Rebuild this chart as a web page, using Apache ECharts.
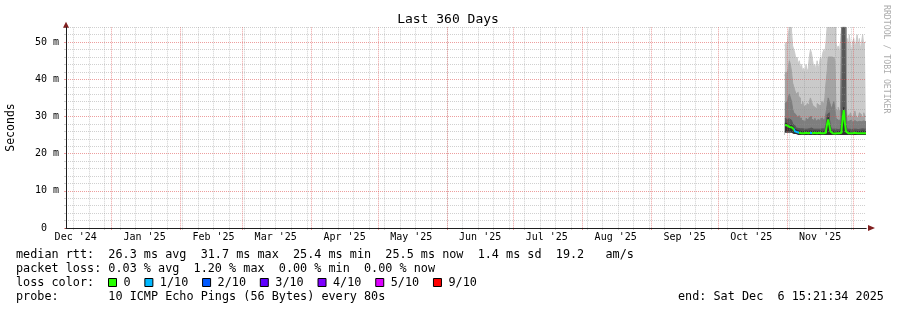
<!DOCTYPE html>
<html><head><meta charset="utf-8">
<script src="https://cdn.jsdelivr.net/npm/echarts@6/dist/echarts.min.js"></script>
<style>html,body{margin:0;padding:0;background:#fff}#c{width:897px;height:310px}</style>
</head><body><div id="c"></div>
<script>
// ---- time frame ----
const DAY = 86400000;
const END = Date.UTC(2025, 11, 6, 15, 21, 34);
const START = END - 360 * DAY;
const STEP = DAY / 2;

// ---- tick labels ----
const monthLabels = ["Dec '24","Jan '25","Feb '25","Mar '25","Apr '25","May '25","Jun '25","Jul '25","Aug '25","Sep '25","Oct '25","Nov '25"];
const yMajor = [0, 10, 20, 30, 40, 50];
const yLabels = ['0  ', '10 m', '20 m', '30 m', '40 m', '50 m'];
const lossLabels = ['0', '1/10', '2/10', '3/10', '4/10', '5/10', '9/10'];
const lossColors = ['#26ff00', '#00b8ff', '#0059ff', '#5e00ff', '#7e00ff', '#dd00ff', '#ff0000'];
const lossLevels = [0, 1, 2, 3, 4, 5, 9];

// ---- data (ms), one value per 12 h, last 37 days ----
const median = [27.7,27.6,27.3,27.2,27.3,27.1,26.9,26.6,26.3,26.0,25.8,25.7,25.6,25.6,25.5,25.6,25.5,25.5,25.6,25.5,
 25.5,25.6,25.6,25.7,25.5,25.5,25.6,25.5,25.5,25.5,25.6,25.5,25.5,25.6,25.5,25.5,25.6,26.2,28.0,29.2,
 27.6,26.0,25.5,25.5,25.4,25.5,25.5,25.4,25.5,25.5,25.6,26.5,29.5,31.7,28.3,26.0,25.5,25.5,25.5,25.4,
 25.5,25.5,25.6,25.5,25.5,25.4,25.5,25.5,25.5,25.6,25.5,25.5,25.5,25.5];
const lossCount = [0,0,0,0,0,0,0,0,1,1,1,1,1,0,0,0,0,0,0,0,
 0,0,0,1,0,0,0,0,0,0,0,0,0,0,0,0,0,0,0,0,
 0,0,0,0,0,0,0,0,0,0,0,0,0,0,0,0,0,0,0,0,
 0,0,0,0,0,0,0,0,0,0,0,0,0,0];
const pingMin = [25.6,25.6,25.6,25.6,25.6,25.6,25.6,25.3,25.3,25.3,25.0,25.0,25.0,25.0,25.0,25.0,25.0,25.0,25.0,25.0,
 25.0,25.0,25.0,25.0,25.0,25.0,25.0,25.0,25.0,25.0,25.0,25.0,25.0,25.0,25.0,25.0,25.0,25.0,25.0,25.0,
 25.0,25.0,25.0,25.0,25.0,25.0,25.0,25.0,25.0,25.0,25.0,25.0,25.0,25.0,25.0,25.0,25.0,25.0,25.0,25.0,
 25.0,25.0,25.0,25.0,25.0,25.0,25.0,25.0,25.0,25.0,25.0,25.0,25.0,25.0];
const ping6 = [28.2,28.1,27.8,27.7,27.8,27.6,27.4,27.1,26.8,26.5,26.3,26.2,26.1,26.1,26.0,26.1,26.0,26.0,26.1,26.0,
 26.0,26.1,26.1,26.2,26.0,26.0,26.1,26.0,26.0,26.0,26.1,26.0,26.0,26.1,26.0,26.0,26.1,26.8,28.6,29.8,
 28.2,26.6,26.0,26.0,25.9,26.0,26.0,25.9,26.0,26.0,26.1,27.2,30.4,32.5,29.0,26.6,26.0,26.0,26.0,25.9,
 26.0,26.0,26.1,26.0,26.0,25.9,26.0,26.0,26.0,26.1,26.0,26.0,26.0,26.0];
const ping7 = [29.5,29.2,29.0,29.4,29.8,29.0,28.6,28.0,27.6,27.2,26.9,26.8,26.7,26.7,26.6,26.7,26.6,26.6,26.7,26.6,
 26.6,26.7,26.8,26.9,26.6,26.6,26.7,26.6,26.6,26.6,26.7,26.6,26.6,26.7,26.6,26.6,26.7,27.8,30.5,31.0,
 29.5,27.4,26.6,26.6,26.5,26.6,26.6,26.5,26.6,26.6,26.8,30.0,54,54,54,27.8,26.6,26.6,26.6,26.5,
 26.6,26.6,26.7,26.6,26.6,26.5,26.6,26.6,26.6,26.7,26.6,26.6,26.6,26.6];
const ping8 = [33.5,34,33,35,36,35,34,32,31,30.5,30,29.8,30.2,29.5,29.6,29,28.8,29.3,28.7,29.5,
 29,29.2,29.8,30,29.4,28.9,29,29.5,28.7,29.2,29,28.8,29.4,29.6,29,29.3,29.8,31,33,35,
 34,33,32,33,34,32,29.5,29,29.5,29,30,54,54,54,54,31,28.5,28.8,28.3,29,
 28.6,28.4,28.9,29.2,28.5,28.3,28.7,29,28.6,28.4,28.8,29,28.6,28.6];
const ping9 = [41,42,41,43,45,44,42,39,38,37,36,36.5,35.5,35,33.5,33,34,32.5,33,32,
 33.5,33,34,35,34,33,32.5,33,32,33.5,33,32.5,33,34,33.5,34,35,39,42,46,
 46,46,46,45,46,45,32,31.5,32.5,31.5,32,54,54,54,54,33,30,30.5,29.5,31,
 30,29.5,30.5,31.5,30,29.5,30,31,30.5,29.5,30,31,30,30];
const pingMax = [49,50,49,52,54,54,53,49,48,47,45,46,44,45,43,44,42,43,41,44,
 42,43,46,48,47,45,43,44,42,45,43,44,46,45,47,48,47,50,54,54,
 54,54,54,54,54,54,50,48,49,47,50,54,54,54,54,50,51,48,52,49,
 47,50,51,48,50,52,49,51,48,50,52,49,50,50];

const N = median.length;
const times = median.map((_, i) => END - (N - 1 - i) * STEP);

// ---- grid positions ----
const weekTicks = [];
for (let t = Date.UTC(2024, 11, 15); t < END; t += 7 * DAY) weekTicks.push(t);
const monthTicks = [];
for (let m = 0; m < 12; m++) monthTicks.push(Date.UTC(2025, m, 1));
const labelTicks = monthLabels.map((_, k) => Date.UTC(2024, 11 + k, 16));
const yMinor = [];
for (let v = 2; v <= 54; v += 2) if (v % 10 !== 0) yMinor.push(v);

const MONO = "'DejaVu Sans Mono', monospace";
const GRID = 'rgba(143,143,143,0.42)';
const MGRID = 'rgba(222,79,79,0.55)';
const ARROW = '#801f1f';
const AXIS = '#1f1f1f';
const SMOKE_BASE = 25; // fill floor for the smoke areas (lowest ping level)

// ---- series: smoke bands (outer = lightest), drawn light to dark ----
const bands = [
  {top: pingMax, color: '#cacaca'},
  {top: ping9, color: '#a4a4a4'},
  {top: ping8, color: '#7e7e7e'},
  {top: ping7, color: '#585858'},
  {top: ping6, color: '#323232'}
];
const series = [];
bands.forEach((b, k) => {
  series.push({type: 'line', step: 'end', symbol: 'none', silent: true, z: 2,
    xAxisIndex: 2, yAxisIndex: 2,
    lineStyle: {width: 1, color: b.color},
    areaStyle: {color: b.color, opacity: 1, origin: SMOKE_BASE},
    data: times.map((t, i) => [t, b.top[i]])});
});
// white mask from the floor up to the smallest ping
series.push({type: 'line', step: 'end', symbol: 'none', silent: true, z: 2,
  xAxisIndex: 2, yAxisIndex: 2,
  lineStyle: {width: 0, color: '#ffffff', opacity: 0},
  areaStyle: {color: '#ffffff', opacity: 1, origin: SMOKE_BASE},
  data: times.map((t, i) => [t, pingMin[i]])});
const medianIndex = series.length;
series.push({type: 'line', step: 'end', symbol: 'none', silent: true, z: 5,
  xAxisIndex: 2, yAxisIndex: 2, lineStyle: {width: 2},
  data: times.map((t, i) => [t, median[i]])});

// loss colour pieces along time
const pieces = [];
let s = 0;
for (let i = 1; i <= N; i++) {
  if (i === N || lossCount[i] !== lossCount[s]) {
    pieces.push({gte: times[s], lt: i < N ? times[i] : END + STEP,
      color: lossColors[lossLevels.indexOf(lossCount[s])]});
    s = i;
  }
}

// ---- legend graphics ----
const CW = 7.12;
const FONT = '11.8px ' + MONO;
const graphic = [
  {type: 'text', x: 448, y: 19.8, style: {text: 'Last 360 Days', font: '13px ' + MONO, fill: '#000', align: 'center', verticalAlign: 'middle'}},
  {type: 'text', x: 11, y: 127.5, rotation: Math.PI / 2, style: {text: 'Seconds', font: '11.5px ' + MONO, fill: '#000', align: 'center', verticalAlign: 'middle'}},
  {type: 'text', x: 886, y: 5, rotation: -Math.PI / 2, style: {text: 'RRDTOOL / TOBI OETIKER', font: '8.2px ' + MONO, fill: '#acacac', align: 'left', verticalAlign: 'middle'}},
  {type: 'text', x: 16, y: 255, style: {text: 'median rtt:  26.3 ms avg  31.7 ms max  25.4 ms min  25.5 ms now  1.4 ms sd  19.2   am/s', font: FONT, fill: '#000', align: 'left', verticalAlign: 'middle'}},
  {type: 'text', x: 16, y: 269, style: {text: 'packet loss: 0.03 % avg  1.20 % max  0.00 % min  0.00 % now', font: FONT, fill: '#000', align: 'left', verticalAlign: 'middle'}},
  {type: 'text', x: 16, y: 283, style: {text: 'loss color:', font: FONT, fill: '#000', align: 'left', verticalAlign: 'middle'}},
  {type: 'text', x: 16, y: 297, style: {text: 'probe:       10 ICMP Echo Pings (56 Bytes) every 80s', font: FONT, fill: '#000', align: 'left', verticalAlign: 'middle'}},
  {type: 'text', x: 678, y: 297, style: {text: 'end: Sat Dec  6 15:21:34 2025', font: FONT, fill: '#000', align: 'left', verticalAlign: 'middle'}}
];
let lx = 108.5;
lossLabels.forEach((lab, k) => {
  graphic.push({type: 'rect', shape: {x: lx, y: 278.5, width: 8, height: 8}, style: {fill: lossColors[k], stroke: '#000', lineWidth: 1}});
  graphic.push({type: 'text', x: lx + 15, y: 283, style: {text: lab, font: FONT, fill: '#000', align: 'left', verticalAlign: 'middle'}});
  lx += 15 + lab.length * CW + 2 * CW;
});

const xBase = {type: 'value', min: START, max: END, position: 'bottom', offset: 0};
const yBase = {type: 'value', min: 0, max: 54, position: 'left', offset: 0};

const option = {
  backgroundColor: '#ffffff',
  animation: false,
  grid: {left: 66, right: 31, top: 27.3, bottom: 82, outerBoundsMode: 'none', containLabel: false},
  xAxis: [
    Object.assign({}, xBase, {z: 3, axisLine: {show: false}, axisLabel: {show: false},
      axisTick: {show: true, customValues: weekTicks, length: 2, lineStyle: {color: GRID}},
      splitLine: {show: true, lineStyle: {color: GRID, width: 1, type: [1, 1]}}}),
    Object.assign({}, xBase, {z: 3, axisLabel: {show: false},
      axisLine: {show: true, symbol: ['none', 'triangle'], symbolSize: [6, 7], symbolOffset: [0, 5.5], lineStyle: {color: ARROW, width: 1}},
      axisTick: {show: true, customValues: monthTicks, length: 2, lineStyle: {color: MGRID}},
      splitLine: {show: true, lineStyle: {color: MGRID, width: 1, type: [1, 1]}}}),
    Object.assign({}, xBase, {z: 4, splitLine: {show: false}, axisTick: {show: false},
      axisLine: {show: true, lineStyle: {color: AXIS, width: 1}},
      axisLabel: {show: true, customValues: labelTicks, margin: 4, fontFamily: MONO, fontSize: 10, color: '#000',
        formatter: v => { const k = labelTicks.indexOf(v); return k >= 0 ? monthLabels[k] : ''; }}})
  ],
  yAxis: [
    Object.assign({}, yBase, {z: 3, axisLine: {show: false}, axisLabel: {show: false},
      axisTick: {show: true, customValues: yMinor, length: 2, lineStyle: {color: GRID}},
      splitLine: {show: true, lineStyle: {color: GRID, width: 1, type: [1, 1]}}}),
    Object.assign({}, yBase, {z: 3, axisLabel: {show: false},
      axisLine: {show: true, symbol: ['none', 'triangle'], symbolSize: [6, 6], symbolOffset: [0, 2.5], lineStyle: {color: ARROW, width: 1}},
      axisTick: {show: true, customValues: yMajor, length: 2, lineStyle: {color: MGRID}},
      splitLine: {show: true, lineStyle: {color: MGRID, width: 1, type: [1, 1]}}}),
    Object.assign({}, yBase, {z: 4, splitLine: {show: false}, axisTick: {show: false},
      axisLine: {show: true, lineStyle: {color: AXIS, width: 1}},
      axisLabel: {show: true, customValues: yMajor, margin: 7, fontFamily: MONO, fontSize: 10, color: '#000',
        formatter: v => { const k = yMajor.indexOf(v); return k >= 0 ? yLabels[k] : ''; }}})
  ],
  visualMap: {type: 'piecewise', show: false, dimension: 0, seriesIndex: medianIndex, pieces: pieces},
  series: series,
  graphic: graphic
};
const chart = echarts.init(document.getElementById('c'), null, {renderer: 'canvas'});
chart.setOption(option);
</script>
</body></html>
